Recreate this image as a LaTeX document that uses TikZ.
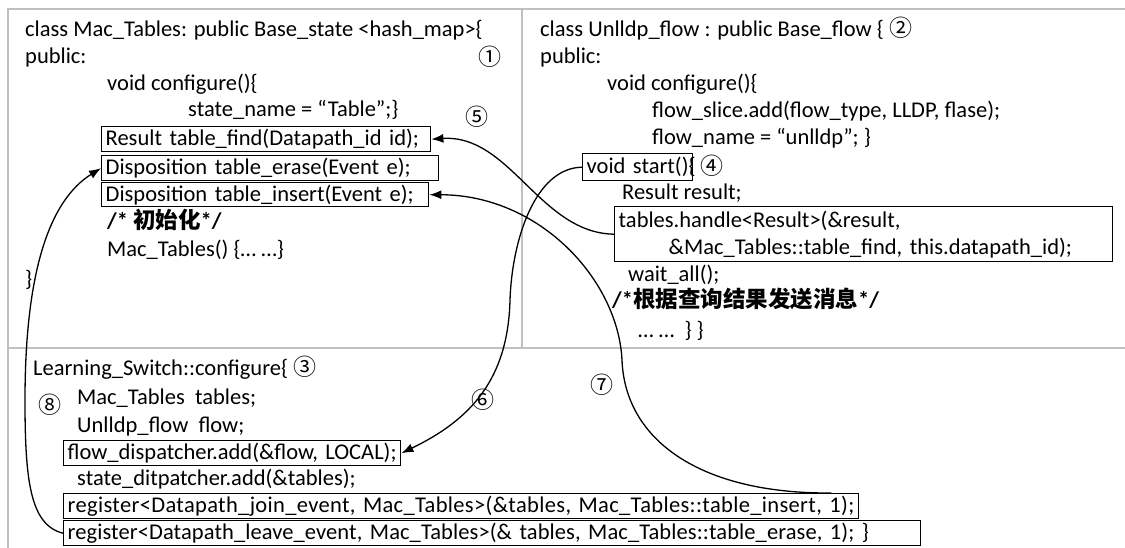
\documentclass[tikz,border=0pt]{standalone}
\usepackage{fontspec}
\setmainfont{Carlito}
\newfontfamily\cjk{Noto Sans CJK SC}
\usetikzlibrary{arrows.meta,calc}
\definecolor{framegray}{RGB}{192,192,192}
\newcommand{\codefont}{\fontsize{22.5}{27}\selectfont}
\newcommand{\circnum}[1]{{\cjk\fontsize{23}{23}\selectfont #1}}
\begin{document}
\begin{tikzpicture}[x=1pt,y=-1pt,
  txt/.style={anchor=base west,inner sep=0pt,font=\codefont},
  num/.style={inner sep=0pt,font=\cjk\fontsize{23}{23}\selectfont},
  cbox/.style={draw,line width=1.4pt,anchor=north west,inner xsep=4pt,inner ysep=0pt,font=\codefont,align=left},
  divider/.style={draw=framegray,line width=2pt},
  link/.style={line width=1.3pt,-{Latex[length=12pt,width=9pt]}}]
\useasboundingbox (0,0) rectangle (1125,548);
% frame
\draw[divider] (1125,9) -- (8,9) -- (8,548);
\draw[divider] (522,9) -- (522,348);
\draw[divider] (8,348) -- (1125,348);

% left panel
\node[txt] (l1) at (25,37) {class Mac\_Tables: public Base\_state <hash\_map>\{};
\node[txt] (l2) at (25,64) {public:};
\node[num] (n1) at (490,57) {①};
\node[txt] (l3) at (107,91) {void configure()\{};
\node[txt] (l4) at (188,117) {state\_name = “Table”;\}};
\node[num] (n5) at (477,117) {⑤};
\node[cbox,minimum width=329,minimum height=25,text width=321] (find) at (101,126) {\mbox{Result table\_find(Datapath\_id id);}};
\node[cbox,minimum width=337,minimum height=25,text width=329] (erase) at (101,155) {\mbox{Disposition table\_erase(Event e);}};
\node[cbox,minimum width=327,minimum height=24,text width=319] (insert) at (101,182) {\mbox{Disposition table\_insert(Event e);}};
\node[txt] (l5) at (107,229) {\textbf{/* {\cjk 初始化}*/}};
\node[txt] (l6) at (107,257) {Mac\_Tables() \{… …\}};
\node[txt] (l7) at (25,287) {\}};

% right panel
\node[txt] (r1) at (540,37) {class Unlldp\_flow : public Base\_flow \{ \circnum{②}};
\node[txt] (r2) at (540,64) {public:};
\node[txt] (r3) at (607,91) {void configure()\{};
\node[txt] (r4) at (652,118) {flow\_slice.add(flow\_type, LLDP, flase);};
\node[txt] (r5) at (652,145) {flow\_name = “unlldp”; \}};
\node[cbox,minimum width=110,minimum height=27,text width=102] (start) at (582,153) {\mbox{void start()\{}};
\node[num] (n4) at (712,166) {④};
\node[txt] (r6) at (622,200) {Result result;};
\node[cbox,minimum width=498,minimum height=55,text width=490] (handle) at (614,206) {\mbox{tables.handle<Result>(\&result,}\\\mbox{\hspace*{50pt}\&Mac\_Tables::table\_find, this.datapath\_id);}};
\node[txt] (r7) at (628,281) {wait\_all();};
\node[txt] (r8) at (612,308) {\textbf{/*{\cjk 根据查询结果发送消息}*/}};
\node[txt] (r9) at (638,337) {… …\ \ \} \}};

% bottom panel
\node[txt] (b1) at (33,375) {Learning\_Switch::configure\{ \circnum{③}};
\node[num] (n8) at (50,405) {⑧};
\node[txt] (b2) at (77,404) {Mac\_Tables\ \ tables;};
\node[txt] (b3) at (77,432) {Unlldp\_flow\ \ flow;};
\node[num] (n6) at (483,400) {⑥};
\node[num] (n7) at (602,385) {⑦};
\node[cbox,minimum width=337,minimum height=25,text width=329] (disp) at (63,440) {\mbox{flow\_dispatcher.add(\&flow, LOCAL);}};
\node[txt] (b4) at (77,485) {state\_ditpatcher.add(\&tables);};
\node[cbox,minimum width=795,minimum height=25,text width=787] (join) at (63,493) {\mbox{\addfontfeature{LetterSpace=1.5}register<Datapath\_join\_event, Mac\_Tables>(\&tables, Mac\_Tables::table\_insert, 1);}};
\node[cbox,minimum width=857,minimum height=25,text width=849] (leave) at (63,520) {\mbox{\addfontfeature{LetterSpace=0.4}register<Datapath\_leave\_event, Mac\_Tables>(\& tables, Mac\_Tables::table\_erase, 1); \}}};

% connectors
\coordinate (joinstart) at ([xshift=-28pt]join.north east);
\draw[link] (handle.west) .. controls (540,233) and (510,134) .. (find.east);
\draw[link] (start.west) .. controls (535,168) and (512,240) .. (510,300) .. controls (508,380) and (470,420) .. (disp.east);
\draw[link] (joinstart) .. controls (700,494) and (625,440) .. (622,360) .. controls (618,280) and (540,195) .. (insert.east);
\draw[link] (leave.west) .. controls (30,525) and (25,480) .. (25,400) .. controls (25,270) and (50,200) .. (erase.west);
\end{tikzpicture}
\end{document}
